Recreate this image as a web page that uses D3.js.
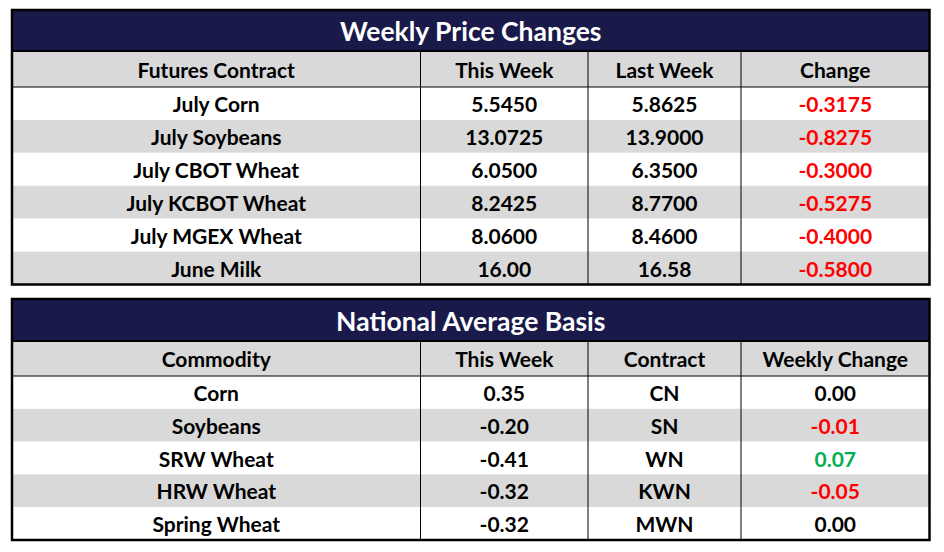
<!DOCTYPE html>
<html><head><meta charset="utf-8">
<script src="https://cdn.jsdelivr.net/npm/d3@7/dist/d3.min.js"></script>
<style>
html,body{margin:0;padding:0;background:#fff;}
svg{display:block;}
text{font-family:Lato,"Open Sans",sans-serif;font-weight:700;}
</style></head>
<body>
<script>
// ---- Data ----
const priceTitle = "Weekly Price Changes";
const priceHeaders = ["Futures Contract", "This Week", "Last Week", "Change"];
const priceContracts = ["July Corn", "July Soybeans", "July CBOT Wheat", "July KCBOT Wheat", "July MGEX Wheat", "June Milk"];
const priceThisWeek = ["5.5450", "13.0725", "6.0500", "8.2425", "8.0600", "16.00"];
const priceLastWeek = ["5.8625", "13.9000", "6.3500", "8.7700", "8.4600", "16.58"];
const priceChange = ["-0.3175", "-0.8275", "-0.3000", "-0.5275", "-0.4000", "-0.5800"];

const basisTitle = "National Average Basis";
const basisHeaders = ["Commodity", "This Week", "Contract", "Weekly Change"];
const basisCommodities = ["Corn", "Soybeans", "SRW Wheat", "HRW Wheat", "Spring Wheat"];
const basisThisWeek = ["0.35", "-0.20", "-0.41", "-0.32", "-0.32"];
const basisContracts = ["CN", "SN", "WN", "KWN", "MWN"];
const basisChange = ["0.00", "-0.01", "0.07", "-0.05", "0.00"];

// ---- Layout ----
const W = 944, H = 552;
const svg = d3.select("body").append("svg").attr("width", W).attr("height", H);

const colEdges = [12, 420.5, 588, 741, 929.5];
const NAVY = "#19194a", GRAY = "#d9d9d9";

function changeColor(v){
  const n = parseFloat(v);
  if (n < 0) return "#ff0000";
  if (n > 0) return "#00b050";
  return "#000";
}

function drawTable(cfg){
  const g = svg.append("g");
  const left = colEdges[0], right = colEdges[colEdges.length-1];
  const nRows = cfg.rows[0].length;
  const y = d3.scaleBand().domain(d3.range(nRows)).range([cfg.bodyTop, cfg.bottom]);
  const x = i => (colEdges[i] + colEdges[i+1]) / 2;

  // title band
  g.append("rect").attr("x", left).attr("y", cfg.top).attr("width", right-left).attr("height", cfg.titleBottom-cfg.top).attr("fill", NAVY);
  g.append("text").attr("x", (left+right)/2).attr("y", (cfg.top+cfg.titleBottom)/2+1).attr("dy","0.36em")
    .attr("text-anchor","middle").attr("fill","#fff").attr("font-size", 26.5).text(cfg.title);
  // header band
  g.append("rect").attr("x", left).attr("y", cfg.titleBottom).attr("width", right-left).attr("height", cfg.bodyTop-cfg.titleBottom).attr("fill", GRAY);
  g.selectAll(".hdr").data(cfg.headers).join("text")
    .attr("x",(d,i)=>x(i)).attr("y",(cfg.titleBottom+cfg.bodyTop)/2+1).attr("dy","0.36em")
    .attr("text-anchor","middle").attr("font-size",21).attr("fill","#000").text(d=>d);
  // rows
  g.selectAll(".rowbg").data(d3.range(nRows)).join("rect")
    .attr("x", left).attr("y", d=>y(d)).attr("width", right-left).attr("height", y.bandwidth())
    .attr("fill", d=> d%2===0 ? "#fff" : GRAY);
  cfg.rows.forEach((col, ci) => {
    g.selectAll(".c"+ci).data(col).join("text")
      .attr("x", x(ci)).attr("y", (d,i)=>y(i)+y.bandwidth()/2+1).attr("dy","0.36em")
      .attr("text-anchor","middle").attr("font-size",21)
      .attr("fill", d => ci===cfg.colorCol ? changeColor(d) : "#000").text(d=>d);
  });
  // grid lines
  g.append("line").attr("x1",left).attr("x2",right).attr("y1",cfg.bodyTop).attr("y2",cfg.bodyTop).attr("stroke","#000").attr("stroke-width",1);
  g.selectAll(".vl").data(colEdges.slice(1,-1)).join("line")
    .attr("x1",d=>d).attr("x2",d=>d).attr("y1",cfg.titleBottom).attr("y2",cfg.bottom).attr("stroke","#000").attr("stroke-width",1);
  g.append("line").attr("x1",left).attr("x2",right).attr("y1",cfg.titleBottom).attr("y2",cfg.titleBottom).attr("stroke","#000").attr("stroke-width",2);
  // outer border
  g.append("rect").attr("x",left).attr("y",cfg.top).attr("width",right-left).attr("height",cfg.bottom-cfg.top)
    .attr("fill","none").attr("stroke","#000").attr("stroke-width",2.5);
}

drawTable({
  title: priceTitle, headers: priceHeaders,
  rows: [priceContracts, priceThisWeek, priceLastWeek, priceChange],
  colorCol: 3, top: 10, titleBottom: 51, bodyTop: 87, bottom: 284.5
});
drawTable({
  title: basisTitle, headers: basisHeaders,
  rows: [basisCommodities, basisThisWeek, basisContracts, basisChange],
  colorCol: 3, top: 299, titleBottom: 341, bodyTop: 376, bottom: 540
});
</script>
</body></html>
